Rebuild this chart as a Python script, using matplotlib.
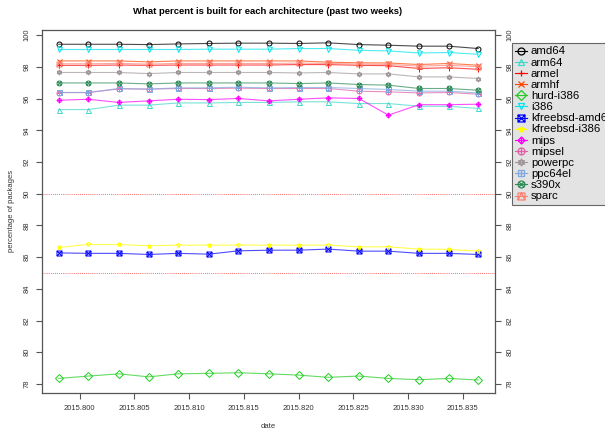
import numpy as np
import matplotlib
matplotlib.use('Agg')
import matplotlib.pyplot as plt
from matplotlib.path import Path

plt.rcParams['font.family'] = ['Liberation Sans', 'DejaVu Sans']

# one point per day, as decimal year
dates = [2015.7981, 2015.8008, 2015.8036, 2015.8063, 2015.8090, 2015.8118, 2015.8145,
         2015.8173, 2015.8200, 2015.8227, 2015.8255, 2015.8282, 2015.8310, 2015.8337, 2015.8364]

amd64 = [99.43, 99.43, 99.43, 99.41, 99.45, 99.48, 99.50, 99.50, 99.48, 99.52, 99.41, 99.37, 99.31, 99.31, 99.16]
arm64 = [95.31, 95.31, 95.59, 95.59, 95.73, 95.73, 95.76, 95.76, 95.80, 95.80, 95.69, 95.69, 95.52, 95.52, 95.38]
armel = [98.10, 98.10, 98.12, 98.10, 98.12, 98.12, 98.12, 98.12, 98.15, 98.15, 98.10, 98.08, 97.90, 97.95, 97.85]
armhf = [98.38, 98.38, 98.38, 98.32, 98.38, 98.38, 98.38, 98.38, 98.38, 98.30, 98.26, 98.25, 98.15, 98.22, 98.11]
hurd_i386 = [78.35, 78.50, 78.64, 78.45, 78.64, 78.67, 78.71, 78.64, 78.56, 78.42, 78.50, 78.35, 78.27, 78.35, 78.25]
i386 = [99.10, 99.10, 99.10, 99.10, 99.10, 99.12, 99.12, 99.12, 99.16, 99.16, 99.05, 99.01, 98.88, 98.91, 98.80]
kfreebsd_amd64 = [86.27, 86.24, 86.24, 86.17, 86.24, 86.19, 86.40, 86.44, 86.44, 86.51, 86.38, 86.38, 86.24, 86.24, 86.17]
kfreebsd_i386 = [86.61, 86.80, 86.80, 86.72, 86.76, 86.76, 86.76, 86.76, 86.76, 86.76, 86.65, 86.65, 86.51, 86.49, 86.38]
mips = [95.90, 95.96, 95.76, 95.86, 95.96, 95.94, 96.01, 95.86, 95.96, 96.05, 96.01, 94.96, 95.62, 95.62, 95.65]
mipsel = [96.38, 96.38, 96.62, 96.60, 96.64, 96.64, 96.66, 96.64, 96.64, 96.64, 96.47, 96.43, 96.36, 96.39, 96.28]
powerpc = [97.65, 97.65, 97.65, 97.58, 97.65, 97.65, 97.65, 97.65, 97.62, 97.65, 97.56, 97.56, 97.37, 97.37, 97.27]
ppc64el = [96.39, 96.39, 96.64, 96.60, 96.68, 96.68, 96.72, 96.68, 96.70, 96.70, 96.64, 96.58, 96.47, 96.47, 96.36]
s390x = [96.99, 96.99, 96.99, 96.93, 96.99, 96.99, 96.99, 96.99, 96.95, 96.99, 96.89, 96.85, 96.64, 96.64, 96.53]
sparc = [98.20, 98.20, 98.22, 98.18, 98.22, 98.22, 98.22, 98.22, 98.24, 98.22, 98.18, 98.16, 98.05, 98.10, 98.02]

names = ['amd64', 'arm64', 'armel', 'armhf', 'hurd-i386', 'i386', 'kfreebsd-amd64',
         'kfreebsd-i386', 'mips', 'mipsel', 'powerpc', 'ppc64el', 's390x', 'sparc']
series = [amd64, arm64, armel, armhf, hurd_i386, i386, kfreebsd_amd64,
          kfreebsd_i386, mips, mipsel, powerpc, ppc64el, s390x, sparc]
colors = ['black', '#40d8c8', 'red', '#ff4500', '#22cc22', '#00e5ee', 'blue',
          'yellow', 'magenta', '#e060a8', '#a09898', '#80a8e0', '#2e8b57', '#fa8072']

# R-like plotting symbols (pch 1..14)
M, L, C = Path.MOVETO, Path.LINETO, Path.CLOSEPOLY
def mk(verts, codes):
    return Path(verts, codes)
sq = [(-1, -1), (1, -1), (1, 1), (-1, 1), (-1, -1)]
sqc = [M, L, L, L, C]
dm = [(0, 1), (1, 0), (0, -1), (-1, 0), (0, 1)]
circ = Path.unit_circle()
plus = mk([(-1, 0), (1, 0), (0, -1), (0, 1)], [M, L, M, L])
cross = mk([(-1, -1), (1, 1), (-1, 1), (1, -1)], [M, L, M, L])
cross7 = mk([(-0.7, -0.7), (0.7, 0.7), (-0.7, 0.7), (0.7, -0.7)], [M, L, M, L])
sq_x = Path.make_compound_path(mk(sq, sqc), cross)
dm_plus = Path.make_compound_path(mk(dm, sqc), plus)
circ_plus = Path.make_compound_path(circ, plus)
david = mk([(0, 1), (0.87, -0.5), (-0.87, -0.5), (0, 1), (0, -1), (0.87, 0.5), (-0.87, 0.5), (0, -1)],
           [M, L, L, C, M, L, L, C])
sq_plus = Path.make_compound_path(mk(sq, sqc), plus)
circ_x = Path.make_compound_path(circ, cross7)
sq_tri = Path.make_compound_path(mk(sq, sqc), mk([(-1, -1), (0, 1), (1, -1)], [M, L, L]))
markers = ['o', '^', '+', 'x', 'D', 'v', sq_x, '*', dm_plus, circ_plus, david, sq_plus, circ_x, sq_tri]

fig = plt.figure(figsize=(6.05, 4.3), dpi=100)
ax = fig.add_axes([42/605, 1-392.7/430, (495-42)/605, (392.7-30)/430])

for name, vals, col, m in zip(names, series, colors, markers):
    ax.plot(dates, vals, color=col, lw=0.8, alpha=0.7)
    ax.plot(dates, vals, linestyle='none', marker=m, ms=3.6, mew=0.7,
            mfc='none', mec=col)

handles = [plt.Line2D([], [], color=c, lw=0.8, marker=m, ms=5, mew=0.9, mfc='none', mec=c)
           for c, m in zip(colors, markers)]

ax.axhline(90, color='red', lw=0.6, ls=(0, (1, 1.5)), alpha=0.8)
ax.axhline(85, color='red', lw=0.6, ls=(0, (1, 1.5)), alpha=0.8)

span = dates[-1] - dates[0]
ax.set_xlim(dates[0] - 0.04*span, dates[-1] + 0.04*span)
ax.set_ylim(77.45, 100.33)

xt = [2015.800, 2015.805, 2015.810, 2015.815, 2015.820, 2015.825, 2015.830, 2015.835]
ax.set_xticks(xt)
ax.set_xticklabels(['%.3f' % v for v in xt])
yt = list(range(78, 101, 2))
ax.set_yticks(yt)
ax.set_yticklabels([str(v) for v in yt])
ax.tick_params(axis='both', labelsize=5.5, length=4.5, width=0.8, color='#555555',
               labelcolor='#333333')
ax.tick_params(axis='x', pad=4)
ax.tick_params(axis='y', right=True, labelright=True, pad=4, labelrotation=90)
for t in ax.get_yticklabels():
    t.set_va('center')
for s in ax.spines.values():
    s.set_color('#555555')
    s.set_linewidth(0.9)

ax.set_xlabel('date', fontsize=5.5, color='#333333', labelpad=8)
ax.set_ylabel('percentage of packages', fontsize=5.5, color='#333333', labelpad=6)
fig.text(268/605, 1-12/430, 'What percent is built for each architecture (past two weeks)',
         ha='center', va='center', fontsize=6.8, fontweight='bold')

leg = fig.legend(handles, names, loc='upper left', bbox_to_anchor=(512/605, 1-43/430),
                 fontsize=8.2, labelspacing=0.1, handlelength=1.0, handletextpad=0.35,
                 handleheight=0.5, borderpad=0.3, borderaxespad=0, frameon=True, fancybox=False)
leg.get_frame().set_facecolor('#e3e3e3')
leg.get_frame().set_edgecolor('#666666')
leg.get_frame().set_linewidth(0.8)
leg.get_frame().set_alpha(1)

fig.savefig('out.png', dpi=100)
